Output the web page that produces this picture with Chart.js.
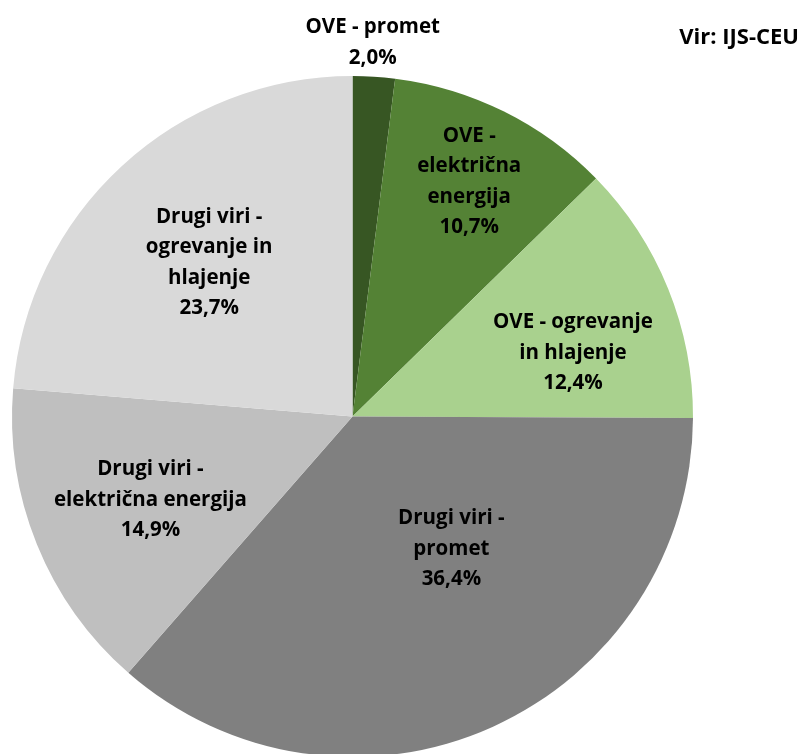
<!DOCTYPE html>
<html>
<head>
<meta charset="utf-8">
<script src="https://cdn.jsdelivr.net/npm/chart.js@4/dist/chart.umd.min.js"></script>
<style>
  html, body { margin: 0; padding: 0; background: #fff; overflow: hidden; }
  #wrap { position: absolute; left: 0; top: 0; width: 802px; height: 760px; }
</style>
</head>
<body>
<div id="wrap"><canvas id="myChart" width="802" height="760"></canvas></div>
<script>
const ctx = document.getElementById('myChart');

// data
const categories = [
  ['OVE - promet'],
  ['OVE -', 'električna', 'energija'],
  ['OVE - ogrevanje', 'in hlajenje'],
  ['Drugi viri -', 'promet'],
  ['Drugi viri -', 'električna energija'],
  ['Drugi viri -', 'ogrevanje in', 'hlajenje']
];
const shares = [2.0, 10.7, 12.4, 36.4, 14.9, 23.7];
const colors = ['#375623', '#548235', '#A9D18E', '#808080', '#BFBFBF', '#D9D9D9'];
const source = 'Vir: IJS-CEU';

// where each label sits: fraction of radius, and angle nudge in degrees
const labelRadius = [1.10, 0.77, 0.674, 0.485, 0.642, 0.617];
const labelNudge = [-0.5, 0, 5.9, -12.5, -0.4, -0.4];

const FONT = 'bold 20.5px "Open Sans", sans-serif';
const LINE_H = 30.5;

const pieLabels = {
  id: 'pieLabels',
  afterDatasetsDraw(chart) {
    const c = chart.ctx;
    const meta = chart.getDatasetMeta(0);
    c.save();
    c.font = FONT;
    c.fillStyle = '#000';
    c.textAlign = 'center';
    c.textBaseline = 'middle';
    meta.data.forEach((arc, i) => {
      const p = arc.getProps(['x', 'y', 'startAngle', 'endAngle', 'outerRadius'], true);
      const a = (p.startAngle + p.endAngle) / 2 + labelNudge[i] * Math.PI / 180;
      const r = p.outerRadius * labelRadius[i];
      const cx = p.x + Math.cos(a) * r;
      const cy = p.y + Math.sin(a) * r;
      const lines = categories[i].concat([shares[i].toFixed(1).replace('.', ',') + '%']);
      const top = cy - (lines.length - 1) * LINE_H / 2;
      lines.forEach((t, k) => c.fillText(t, cx, top + k * LINE_H));
    });
    c.textAlign = 'right';
    c.font = 'bold 22px "Open Sans", sans-serif';
    c.fillText(source, 799, 38);
    c.restore();
  }
};

const myChart = new Chart(ctx, {
  type: 'pie',
  data: {
    labels: categories.map(l => l.join(' ')),
    datasets: [{
      data: shares,
      backgroundColor: colors,
      borderWidth: 0
    }]
  },
  options: {
    responsive: false,
    animation: false,
    layout: {
      padding: { left: 12, top: 76, right: 109, bottom: 3 }
    },
    plugins: {
      legend: { display: false },
      tooltip: { enabled: false }
    }
  },
  plugins: [pieLabels]
});
</script>
</body>
</html>
